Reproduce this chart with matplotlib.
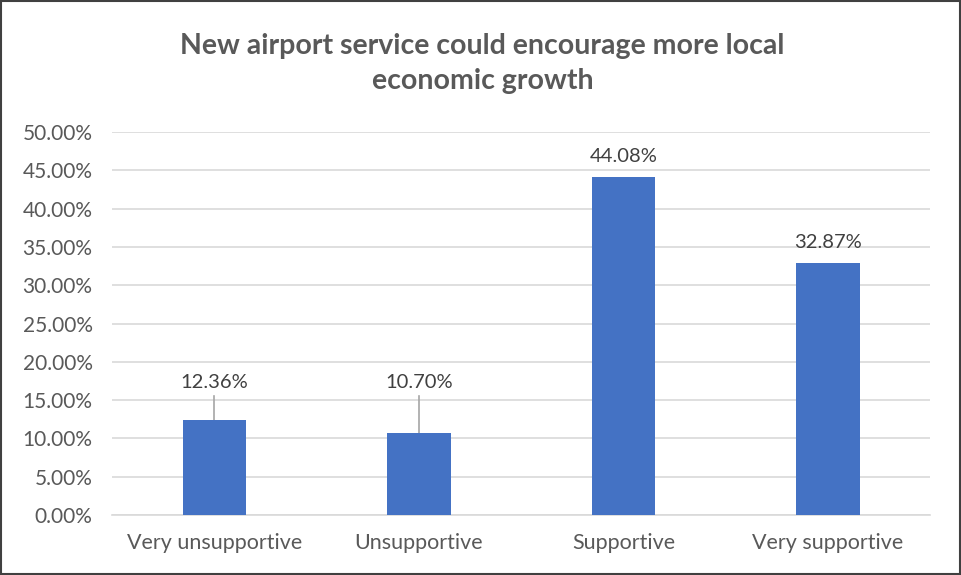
import numpy as np
import matplotlib.pyplot as plt
from matplotlib.patches import Rectangle

categories = ["Very unsupportive", "Unsupportive", "Supportive", "Very supportive"]
values = [12.36, 10.70, 44.08, 32.87]
# labels for the two short bars sit higher, joined with a leader line
label_pos = [17.3, 17.3, None, None]

plt.rcParams["font.family"] = ["Lato", "DejaVu Sans"]
text_color = "#595959"

fig = plt.figure(figsize=(9.61, 5.75), dpi=100)
ax = fig.add_axes([0.1165, 0.1043, 0.8515, 0.6661])

x = np.arange(len(categories))
ax.bar(x, values, width=0.31, color="#4472C4", zorder=3)

for i, v in enumerate(values):
    if label_pos[i] is None:
        ax.text(i, v + 1.6, f"{v:.2f}%", ha="center", va="bottom", fontsize=14.5, color="#404040")
    else:
        ax.plot([i, i], [v, label_pos[i] - 1.8], color="#a6a6a6", lw=1.2, zorder=2)
        ax.text(i, label_pos[i], f"{v:.2f}%", ha="center", va="center", fontsize=14.5, color="#404040")

ax.set_xlim(-0.5, 3.5)
ax.set_ylim(0, 50)
ax.set_yticks(np.arange(0, 51, 5))
ax.set_yticklabels([f"{t:.2f}%" for t in np.arange(0, 51, 5)])
ax.set_xticks(x)
ax.set_xticklabels(categories)
ax.tick_params(length=0, colors=text_color)
ax.tick_params(axis="x", pad=13, labelsize=15.5)
ax.tick_params(axis="y", pad=14, labelsize=15)
ax.grid(axis="y", color="#d9d9d9", lw=1.2, zorder=0)
for s in ["top", "right", "left"]:
    ax.spines[s].set_visible(False)
ax.spines["bottom"].set_color("#d9d9d9")
ax.spines["bottom"].set_linewidth(1.2)

fig.text(0.502, 0.890, "New airport service could encourage more local\neconomic growth",
         ha="center", va="center", fontsize=20.5, fontweight="bold", color=text_color,
         linespacing=1.45)

fig.patches.append(Rectangle((0.001, 0.001), 0.998, 0.998, transform=fig.transFigure,
                             fill=False, edgecolor="#404040", lw=1.5))

fig.savefig("out.png", dpi=100)
